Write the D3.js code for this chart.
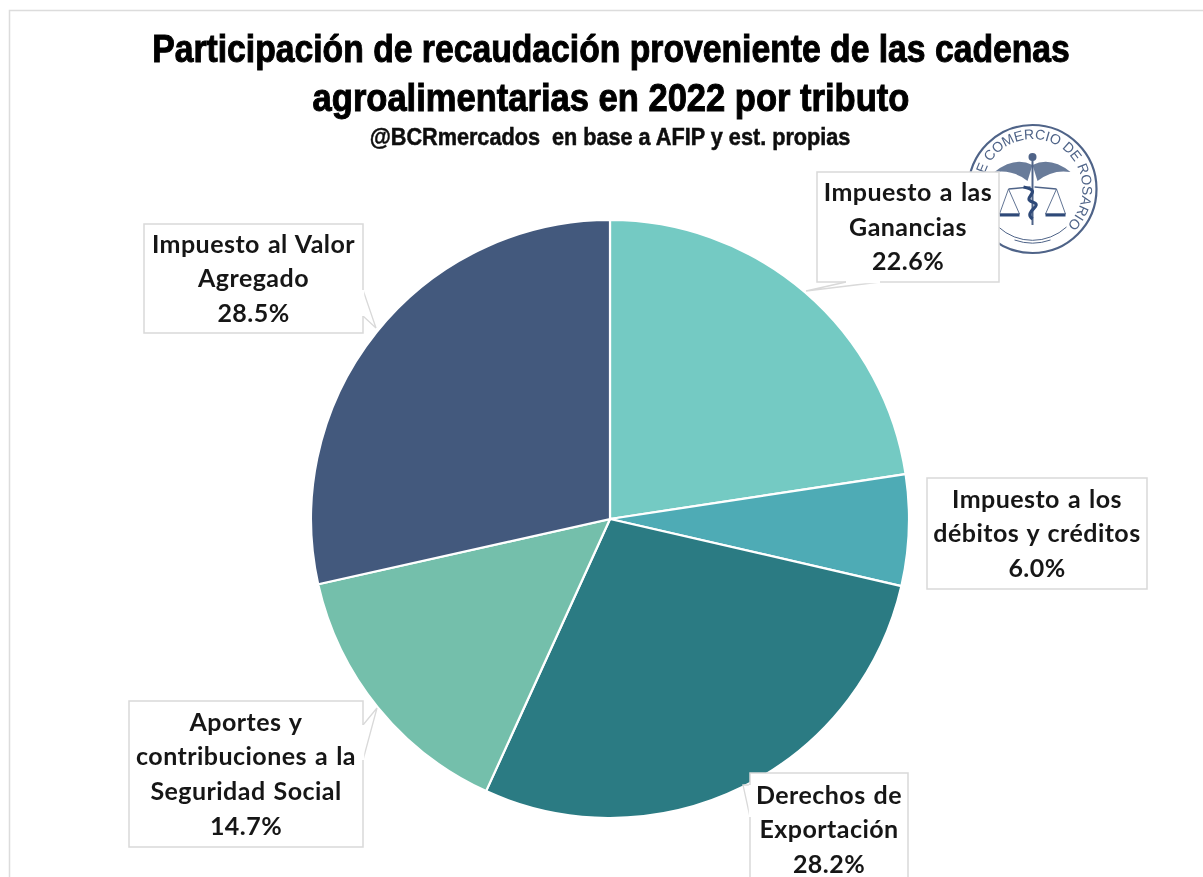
<!DOCTYPE html>
<html><head><meta charset="utf-8">
<script src="https://cdn.jsdelivr.net/npm/d3@7"></script>
<style>html,body{margin:0;padding:0;background:#fff;overflow:hidden}svg{display:block}</style>
</head><body><div id="c"></div>
<script>
const categories = ["Impuesto a las Ganancias","Impuesto a los débitos y créditos","Derechos de Exportación","Aportes y contribuciones a la Seguridad Social","Impuesto al Valor Agregado"];
const values = [22.6,6.0,28.2,14.7,28.5];
const colors = ["#74cac3","#4eabb5","#2b7b83","#74bfab","#43597d"];
const labelLines = [["Impuesto a las","Ganancias"],["Impuesto a los","débitos y créditos"],["Derechos de","Exportación"],["Aportes y","contribuciones a la","Seguridad Social"],["Impuesto al Valor","Agregado"]];
const titleLines = ["Participación de recaudación proveniente de las cadenas","agroalimentarias en 2022 por tributo"];
const subtitle = "@BCRmercados  en base a AFIP y est. propias";
const sealText = "DE COMERCIO DE ROSARIO";

const boxes = [
 {b:[817,172,182,110], tail:[[880,282],[806,291],[846,282]]},
 {b:[927,478,220,111], tail:null},
 {b:[750,773,158,120], tail:[[750,785],[743,785],[750,817]]},
 {b:[129,701,234,146], tail:[[363,725],[377,708],[363,760]]},
 {b:[144,224,219,109], tail:[[363,290],[376,328],[363,316]]}
];
const W=1203,H=877,cx=610,cy=519,R=299;
const svg=d3.select("#c").append("svg").attr("width",W).attr("height",H).attr("viewBox",`0 0 ${W} ${H}`);
const defs=svg.append("defs");
const flt=defs.append("filter").attr("id","soft").attr("x","-5%").attr("y","-20%").attr("width","110%").attr("height","140%");
flt.append("feGaussianBlur").attr("stdDeviation",0.5);

svg.append("path").attr("d",`M9.5 ${H}V10.5H${W}`).attr("fill","none").attr("stroke","#dcdcdc").attr("stroke-width",1.5);

// seal
const seal=svg.append("g").attr("transform","translate(1032.5,189)").attr("filter","url(#soft)");
const sc="#4f6488", sd="#2f4a78";
seal.append("circle").attr("r",64).attr("fill","#fff").attr("stroke",sc).attr("stroke-width",2.2);
seal.append("path").attr("d","M-34 38A50 50 0 0 0 34 38").attr("fill","none").attr("stroke",sc).attr("stroke-width",1);
seal.append("path").attr("d","M-18 51A54 54 0 0 0 18 51").attr("fill","none").attr("stroke",sc).attr("stroke-width",1);
defs.append("path").attr("id","sealArc").attr("d","M-1 50A50 50 0 1 1 1 50");
seal.append("g").attr("transform","rotate(26)").append("text").attr("font-family","'Liberation Sans',sans-serif").attr("font-size",14).attr("fill",sc)
  .append("textPath").attr("href","#sealArc").attr("startOffset","50%").attr("text-anchor","middle").text(sealText);
[-1,1].forEach(s=>{
  seal.append("path").attr("d",`M0-24Q${s*18}-33 ${s*38}-17Q${s*20}-20 ${s*5}-8Z`).attr("fill",sc).attr("opacity",.85);
  seal.append("path").attr("d",`M${s*2}-2L${s*24} 0`).attr("stroke",sc).attr("stroke-width",1.6);
  seal.append("path").attr("d",`M${s*24} 0L${s*33} 25H${s*13}Z`).attr("fill","none").attr("stroke",sc).attr("stroke-width",.9);
  seal.append("path").attr("d",`M${s*13} 26H${s*33}`).attr("stroke",sd).attr("stroke-width",3);
});
seal.append("circle").attr("cy",-32).attr("r",4).attr("fill",sc);
seal.append("path").attr("d","M0-30V36").attr("stroke",sc).attr("stroke-width",2).attr("fill","none");
seal.append("path").attr("d","M-9-2C12 2-12 9 0 13C12 17-10 22 0 30").attr("stroke",sd).attr("stroke-width",3.2).attr("fill","none");

// pie
const pie=d3.pie().sort(null).value(d=>d);
const arc=d3.arc().innerRadius(0).outerRadius(R);
svg.append("g").attr("transform",`translate(${cx},${cy})`).selectAll("path").data(pie(values)).join("path")
  .attr("d",arc).attr("fill",(d,i)=>colors[i]).attr("stroke","#fff").attr("stroke-width",2.2);

// callouts
const line=d3.line();
const lab=svg.append("g");
boxes.forEach((o,i)=>{
  const [x,y,w,h]=o.b;
  const g=lab.append("g");
  g.append("rect").attr("x",x).attr("y",y).attr("width",w).attr("height",h).attr("fill","#fff").attr("stroke","#d9d9d9").attr("stroke-width",1.5);
  if(o.tail){
    g.append("path").attr("d",line(o.tail)).attr("fill","#fff").attr("stroke","#d9d9d9").attr("stroke-width",1.3);
    g.append("path").attr("d",line([o.tail[0],o.tail[2]])).attr("stroke","#fff").attr("stroke-width",2.5);
  }
  const ls=[...labelLines[i],values[i].toFixed(1)+"%"];
  const lh=34.7, total=ls.length*lh, y0=y+h/2-total/2+lh/2;
  const yStart = i===2 ? 795 : y0;
  const tg=g.append("g").attr("filter","url(#soft)");
  ls.forEach((t,j)=>tg.append("text").attr("x",x+w/2).attr("y",yStart+j*lh).attr("dy","0.35em")
    .attr("text-anchor","middle").attr("font-family","Lato,sans-serif").attr("font-weight",700).attr("font-size",25)
    .attr("letter-spacing",.45).attr("word-spacing",1.5)
    .attr("fill","#161616").style("white-space","pre").text(t));
});

// titles: narrowed horizontally to the reference's condensed width
function fitted(str,xc,yb,width,size,sw,col){
  const t=svg.append("g").attr("filter","url(#soft)").append("text").attr("text-anchor","middle")
    .attr("font-family","'Liberation Sans',sans-serif").attr("font-weight",700).attr("font-size",size)
    .attr("fill",col).attr("stroke",col).attr("stroke-width",sw).style("white-space","pre").text(str);
  const k=width/t.node().getComputedTextLength();
  t.attr("transform",`translate(${xc},${yb}) scale(${k},1)`);
}
const titleWidths=[918,597];
titleLines.forEach((t,i)=>fitted(t,611,[62,111][i],titleWidths[i],39,1,"#050505"));
fitted(subtitle,610,145,481,23,.5,"#0d0d0d");
</script></body></html>
